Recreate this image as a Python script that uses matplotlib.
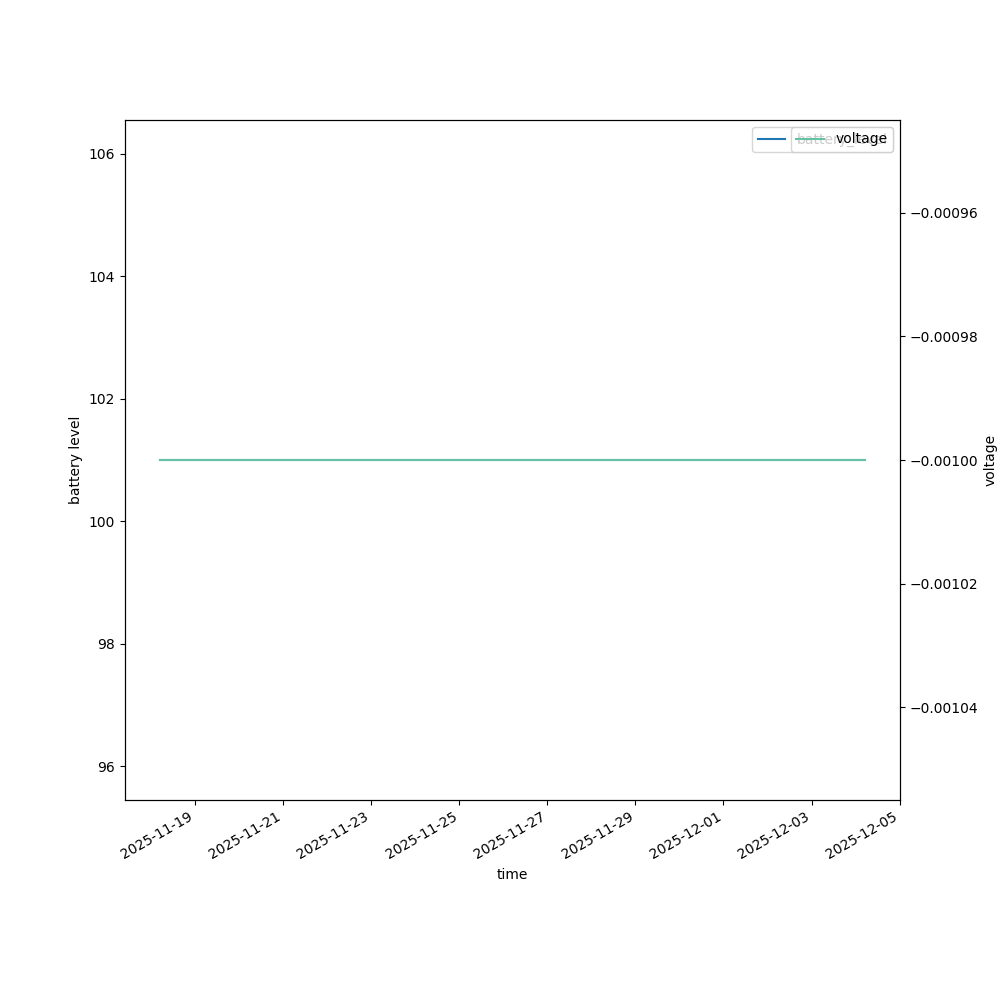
import pandas as pd
import matplotlib.pyplot as plt

# daily readings
times = pd.date_range("2025-11-18 05:00", "2025-12-04 05:00", freq="D")
battery_level = [101] * len(times)
voltage = [-0.001] * len(times)

fig, ax = plt.subplots(figsize=(10, 10))
ax.plot(times, battery_level, color="tab:blue", label="battery_level")
ax.set_xlabel("time")
ax.set_ylabel("battery level")
ax.legend(loc="upper right")

ax2 = ax.twinx()
ax2.plot(times, voltage, color="#66c2a5", label="voltage")
ax2.set_ylabel("voltage")
ax2.legend(loc="upper right")

fig.autofmt_xdate()
plt.savefig("out.png")
